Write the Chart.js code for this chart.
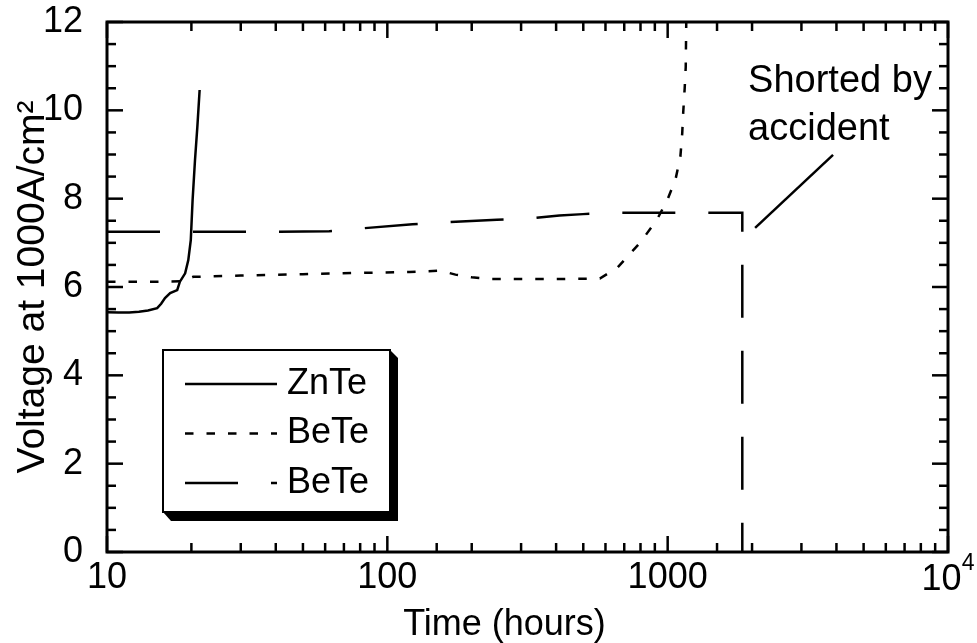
<!DOCTYPE html>
<html><head><meta charset="utf-8">
<script src="https://cdn.jsdelivr.net/npm/chart.js@4.4.1/dist/chart.umd.min.js"></script>
<style>html,body{margin:0;padding:0;background:#fff;}canvas{display:block;}</style>
</head><body>
<canvas id="c" width="977" height="643"></canvas>
<script>
// ---- data ----
const seriesLabels = ['ZnTe', 'BeTe', 'BeTe'];

const znteHours = [10, 11, 12, 13, 14, 15.1, 15.6, 16.1, 16.8, 17.8, 18.2, 19.0, 19.5, 19.9, 20.2, 20.6, 21.0, 21.4];
const znteVolts = [5.43, 5.42, 5.42, 5.44, 5.47, 5.52, 5.62, 5.75, 5.86, 5.93, 6.12, 6.31, 6.61, 7.06, 7.97, 8.87, 9.62, 10.46];

const beteShortHours = [10, 15, 18.5, 20.3, 30, 50, 80, 120, 155, 175, 200, 235, 300, 400, 573, 664, 797, 915, 997, 1066, 1110, 1127, 1135, 1150, 1160, 1165];
const beteShortVolts = [6.12, 6.12, 6.13, 6.23, 6.26, 6.29, 6.32, 6.34, 6.37, 6.28, 6.22, 6.18, 6.18, 6.18, 6.19, 6.45, 7.0, 7.52, 7.97, 8.43, 8.95, 9.48, 9.9, 10.5, 10.98, 12.0];

const beteLongHours = [10, 40, 62, 82, 123, 163, 246, 323, 411, 499, 649, 1000, 1500, 1846, 1846];
const beteLongVolts = [7.25, 7.25, 7.26, 7.33, 7.42, 7.47, 7.52, 7.55, 7.62, 7.65, 7.68, 7.68, 7.68, 7.68, 0];

const xTickValues = [10, 100, 1000, 10000];
const xTickLabels = ['10', '100', '1000', '10'];
const xTickExponents = ['', '', '', '4'];
const yTickValues = [0, 2, 4, 6, 8, 10, 12];
const yTickLabels = ['0', '2', '4', '6', '8', '10', '12'];
const xAxisTitle = 'Time (hours)';
const yAxisTitle = 'Voltage at 1000A/cm\u00B2';
const annotationLines = ['Shorted by', 'accident'];
const annotationTextAt = [1936, 10.41];      // hours, volts of text start
const annotationLeader = [[2051, 7.34], [3890, 8.99]];

// ---- build ----
const FONT = "'Liberation Sans', Arial, Helvetica, sans-serif";
const zip = (xs, ys) => xs.map((x, i) => ({x: x, y: ys[i]}));
const findIdx = (vals, v) => vals.findIndex(t => Math.abs(t - v) < 1e-6 * Math.max(1, Math.abs(t)));

const framePlugin = {
  id: 'frame',
  afterDatasetsDraw(chart) {
    const {ctx, chartArea: a, scales: {x, y}} = chart;
    ctx.save();
    ctx.strokeStyle = '#000';
    ctx.lineCap = 'butt';
    const seg = (x1, y1, x2, y2) => { ctx.beginPath(); ctx.moveTo(x1, y1); ctx.lineTo(x2, y2); ctx.stroke(); };
    ctx.lineWidth = 2.5;
    x.ticks.forEach(t => {
      const px = x.getPixelForValue(t.value);
      const len = findIdx(xTickValues, t.value) >= 0 ? 16 : 9;
      seg(px, a.bottom, px, a.bottom - len);
      seg(px, a.top, px, a.top + len);
    });
    y.ticks.forEach(t => {
      const py = y.getPixelForValue(t.value);
      const len = findIdx(yTickValues, t.value) >= 0 ? 16 : 9;
      seg(a.left, py, a.left + len, py);
      seg(a.right, py, a.right - len, py);
    });
    ctx.lineWidth = 3;
    ctx.strokeRect(a.left, a.top, a.right - a.left, a.bottom - a.top);
    // power-of-ten tick labels that carry an exponent
    ctx.fillStyle = '#000';
    ctx.textBaseline = 'alphabetic';
    ctx.textAlign = 'left';
    xTickValues.forEach((v, i) => {
      if (!xTickExponents[i]) return;
      const px = x.getPixelForValue(v);
      ctx.font = '36px ' + FONT;
      const wb = ctx.measureText(xTickLabels[i]).width;
      ctx.font = '23px ' + FONT;
      const we = ctx.measureText(xTickExponents[i]).width;
      const x0 = px - (wb + we) / 2;
      ctx.font = '36px ' + FONT;
      ctx.fillText(xTickLabels[i], x0, a.bottom + 38);
      ctx.font = '23px ' + FONT;
      ctx.fillText(xTickExponents[i], x0 + wb, a.bottom + 18);
    });
    // x axis title (set slightly left of centre, as in the original)
    ctx.font = '36px ' + FONT;
    ctx.textAlign = 'center';
    ctx.fillText(xAxisTitle, (a.left + a.right) / 2 - 23, chart.height - 8);
    ctx.restore();
  }
};

const legendPlugin = {
  id: 'boxLegend',
  afterDraw(chart) {
    const ctx = chart.ctx;
    const bx = 163, by = 350, bw = 227, bh = 162, sh = 8;
    ctx.save();
    ctx.fillStyle = '#000';
    ctx.beginPath();
    ctx.moveTo(bx + bw, by);
    ctx.lineTo(bx + bw + sh, by + sh);
    ctx.lineTo(bx + bw + sh, by + bh + sh + 1);
    ctx.lineTo(bx + sh, by + bh + sh + 1);
    ctx.lineTo(bx, by + bh);
    ctx.closePath();
    ctx.fill();
    ctx.fillStyle = '#fff';
    ctx.fillRect(bx, by, bw, bh);
    ctx.strokeStyle = '#000';
    ctx.lineWidth = 2;
    ctx.strokeRect(bx, by, bw, bh);
    chart.data.datasets.forEach((ds, i) => {
      const ly = 384 + i * 49.5;
      ctx.lineWidth = ds.borderWidth;
      ctx.setLineDash(ds.borderDash || []);
      ctx.lineDashOffset = 0;
      ctx.beginPath();
      ctx.moveTo(185, ly);
      ctx.lineTo(277, ly);
      ctx.stroke();
      ctx.setLineDash([]);
      ctx.fillStyle = '#000';
      ctx.font = '36px ' + FONT;
      ctx.textBaseline = 'middle';
      ctx.textAlign = 'left';
      ctx.fillText(ds.label, 287, ly);
    });
    const {x, y} = chart.scales;
    ctx.font = '38px ' + FONT;
    ctx.textBaseline = 'alphabetic';
    ctx.fillStyle = '#000';
    const tx = x.getPixelForValue(annotationTextAt[0]);
    const ty = y.getPixelForValue(annotationTextAt[1]);
    annotationLines.forEach((s, i) => ctx.fillText(s, tx, ty + i * 48));
    ctx.lineWidth = 2.5;
    ctx.beginPath();
    ctx.moveTo(x.getPixelForValue(annotationLeader[0][0]), y.getPixelForValue(annotationLeader[0][1]));
    ctx.lineTo(x.getPixelForValue(annotationLeader[1][0]), y.getPixelForValue(annotationLeader[1][1]));
    ctx.stroke();
    ctx.restore();
  }
};

new Chart(document.getElementById('c'), {
  type: 'line',
  data: {
    datasets: [
      {label: seriesLabels[0], data: zip(znteHours, znteVolts), borderColor: '#000', borderWidth: 2.5, borderDash: [], pointRadius: 0, fill: false, tension: 0},
      {label: seriesLabels[1], data: zip(beteShortHours, beteShortVolts), borderColor: '#000', borderWidth: 2.5, borderDash: [8.5, 13], pointRadius: 0, fill: false, tension: 0},
      {label: seriesLabels[2], data: zip(beteLongHours, beteLongVolts), borderColor: '#000', borderWidth: 2.5, borderDash: [53, 33], pointRadius: 0, fill: false, tension: 0}
    ]
  },
  options: {
    responsive: false,
    animation: false,
    events: [],
    layout: {padding: {top: 22, right: 29, left: 0, bottom: 0}},
    plugins: {legend: {display: false}, tooltip: {enabled: false}},
    scales: {
      x: {
        type: 'logarithmic', min: 10, max: 10000,
        afterFit(s) { s.height = 91; s.paddingLeft = 0; s.paddingRight = 0; },
        grid: {display: false, drawTicks: false, tickLength: 0},
        border: {display: false},
        ticks: {
          autoSkip: false, maxRotation: 0, minRotation: 0, padding: 4, color: '#000',
          font: {family: FONT, size: 36},
          callback(v) { const i = findIdx(xTickValues, v); return (i >= 0 && !xTickExponents[i]) ? xTickLabels[i] : ''; }
        },
        title: {display: false}
      },
      y: {
        type: 'linear', min: 0, max: 12,
        afterFit(s) { s.width = 107; s.paddingTop = 0; s.paddingBottom = 0; },
        grid: {display: false, drawTicks: false, tickLength: 0},
        border: {display: false},
        ticks: {
          stepSize: 0.5, autoSkip: false, padding: 24, color: '#000',
          font: {family: FONT, size: 36},
          callback(v) { const i = findIdx(yTickValues, v); return i >= 0 ? yTickLabels[i] : ''; }
        },
        title: {display: true, text: yAxisTitle, color: '#000', font: {family: FONT, size: 39}, padding: {top: 10, bottom: 0}}
      }
    }
  },
  plugins: [framePlugin, legendPlugin]
});
</script>
</body></html>
